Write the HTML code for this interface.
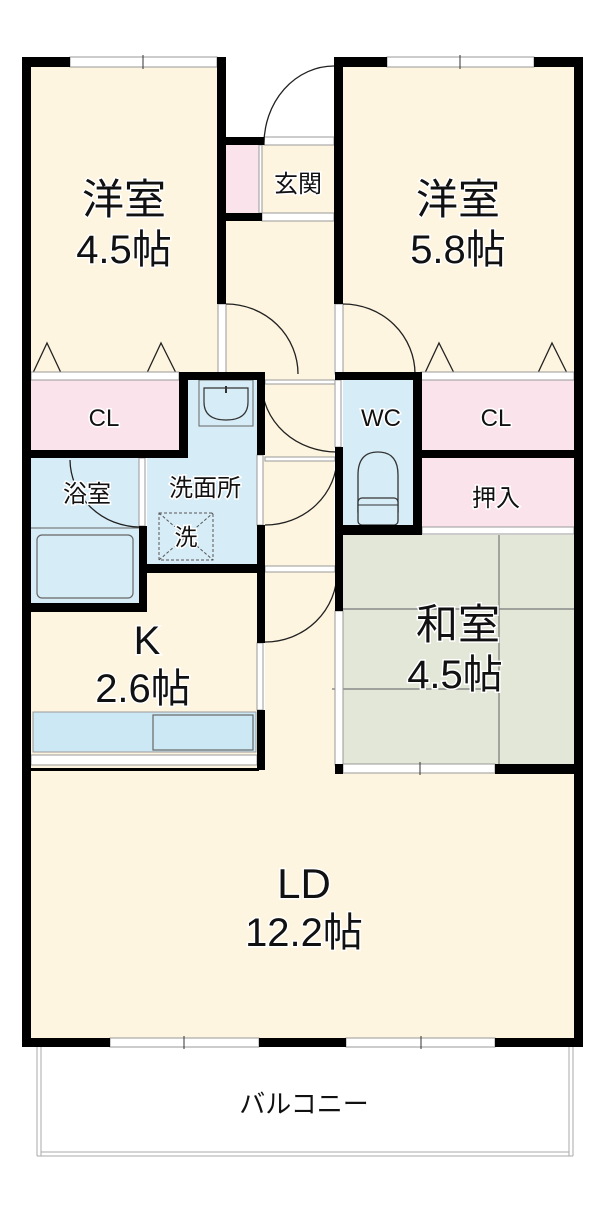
<!DOCTYPE html>
<html><head><meta charset="utf-8"><style>
html,body{margin:0;padding:0;background:#fff;}
svg{display:block}
text{font-family:"Liberation Sans","Noto Sans CJK JP",sans-serif;fill:#111;text-anchor:middle;stroke:#fff;stroke-width:3px;paint-order:stroke;}
</style></head><body>
<svg width="600" height="1216" viewBox="0 0 600 1216" xmlns="http://www.w3.org/2000/svg">
<rect width="600" height="1216" fill="#fff"/>
<g>
<rect x="31" y="66" width="187" height="310" fill="#fdf5e0"/>
<rect x="343" y="66" width="231" height="310" fill="#fdf5e0"/>
<rect x="226" y="145" width="108" height="430" fill="#fdf5e0"/>
<rect x="262" y="145" width="72" height="70" fill="#fdf5e0"/>
<rect x="226" y="145" width="34" height="70" fill="#fbe3ec"/>
<rect x="31" y="380" width="148" height="70" fill="#fbe3ec"/>
<rect x="421" y="380" width="153" height="70" fill="#fbe3ec"/>
<rect x="421" y="457" width="153" height="70" fill="#fbe3ec"/>
<rect x="31" y="457" width="110" height="148" fill="#d6ecf7"/>
<rect x="188" y="380" width="71" height="186" fill="#d6ecf7"/>
<rect x="147" y="455" width="112" height="111" fill="#d6ecf7"/>
<rect x="343" y="380" width="70" height="147" fill="#d6ecf7"/>
<rect x="31" y="610" width="228" height="158" fill="#fdf5e0"/>
<rect x="147" y="570" width="112" height="50" fill="#fdf5e0"/>
<rect x="265" y="560" width="75" height="215" fill="#fdf5e0"/>
<rect x="343" y="535" width="231" height="230" fill="#e2e7d8"/>
<rect x="31" y="770" width="543" height="270" fill="#fdf5e0"/>
</g>
<g stroke="#777" stroke-width="1.2" fill="none">
<line x1="499" y1="535" x2="499" y2="764"/>
<line x1="343" y1="609" x2="574" y2="609"/>
<line x1="332" y1="689" x2="499" y2="689"/>
</g>
<rect x="33" y="712" width="223" height="40" fill="#cde8f5" stroke="#999" stroke-width="1"/>
<rect x="153" y="715" width="100" height="35" fill="#cde8f5" stroke="#666" stroke-width="1.2"/>
<rect x="31" y="755" width="226" height="10" fill="#fff" stroke="#999" stroke-width="1"/>
<rect x="37" y="535" width="96" height="63" rx="5" fill="#d6ecf7" stroke="#666" stroke-width="1.2"/>
<line x1="31" y1="528" x2="139" y2="528" stroke="#666" stroke-width="1"/>
<rect x="199" y="380" width="54" height="46" fill="#d6ecf7" stroke="#666" stroke-width="1"/>
<path d="M204 388 H248 V402 Q248 420 226 420 Q204 420 204 402 Z" fill="#d6ecf7" stroke="#333" stroke-width="1.2"/>
<line x1="226" y1="386" x2="226" y2="393" stroke="#333" stroke-width="2"/>
<path d="M358 512 V475 Q358 452 378 452 Q398 452 398 475 V512 Z" fill="#d6ecf7" stroke="#333" stroke-width="1.3"/>
<rect x="358" y="498" width="40" height="27" rx="4" fill="#d6ecf7" stroke="#333" stroke-width="1.3"/>
<line x1="358" y1="505" x2="398" y2="505" stroke="#333" stroke-width="1"/>
<rect x="159" y="513" width="54" height="47" fill="none" stroke="#555" stroke-width="1" stroke-dasharray="3,2"/>
<line x1="159" y1="560" x2="213" y2="513" stroke="#555" stroke-width="1" stroke-dasharray="3,2"/>
<line x1="159" y1="513" x2="213" y2="560" stroke="#555" stroke-width="1" stroke-dasharray="3,2"/>
<g fill="none" stroke="#222" stroke-width="1.3">
<path d="M32 375 L47 343 L62 375"/><path d="M146 375 L161 343 L177 375"/>
<path d="M424 375 L439 343 L455 375"/><path d="M537 375 L552 343 L568 375"/>
</g>
<g fill="#fff" stroke="#999" stroke-width="1">
<rect x="70" y="57" width="147" height="10"/>
<rect x="387" y="57" width="147" height="10"/>
<rect x="264" y="137" width="70" height="8"/>
<rect x="262" y="213" width="72" height="8"/>
<rect x="259" y="145" width="3" height="68"/>
<rect x="31" y="372" width="148" height="8"/>
<rect x="421" y="372" width="153" height="8"/>
<rect x="218" y="304" width="8" height="70"/>
<rect x="335" y="304" width="8" height="70"/>
<rect x="265" y="380" width="70" height="4"/>
<rect x="335" y="380" width="6" height="67"/>
<rect x="257" y="455" width="6" height="70"/>
<rect x="265" y="457" width="70" height="4"/>
<rect x="139" y="458" width="6" height="68"/>
<rect x="265" y="566" width="70" height="6"/>
<rect x="257" y="643" width="6" height="67"/>
<rect x="335" y="611" width="8" height="154"/>
<rect x="422" y="527" width="152" height="7"/>
<rect x="343" y="764" width="152" height="9"/>
<rect x="110" y="1038" width="149" height="9"/>
<rect x="346" y="1038" width="149" height="9"/>
</g>
<g stroke="#333" stroke-width="1"><line x1="143" y1="55" x2="143" y2="69"/><line x1="460" y1="55" x2="460" y2="69"/><line x1="184" y1="1036" x2="184" y2="1049"/><line x1="421" y1="1036" x2="421" y2="1049"/><line x1="420" y1="762" x2="420" y2="775"/></g>
<g fill="none" stroke="#222" stroke-width="1.3">
<path d="M334 66 A70 78 0 0 0 264 145"/>
<path d="M226 304 A72 70 0 0 1 298 374"/>
<path d="M343 304 A72 70 0 0 1 415 374"/>
<path d="M262 384 A75 68 0 0 0 337 452"/>
<path d="M337 457 A72 68 0 0 1 265 525"/>
<path d="M337 572 A72 70 0 0 1 265 642"/>
<path d="M70 460 A70 68 0 0 0 139 527"/>
</g>
<g fill="#000">
<rect x="22" y="57" width="48" height="10"/>
<rect x="22" y="57" width="9" height="990"/>
<rect x="217" y="57" width="9" height="247"/>
<rect x="334" y="57" width="9" height="247"/>
<rect x="334" y="57" width="53" height="10"/>
<rect x="534" y="57" width="48" height="10"/>
<rect x="574" y="57" width="9" height="990"/>
<rect x="226" y="137" width="38" height="8"/>
<rect x="226" y="213" width="36" height="8"/>
<rect x="179" y="372" width="9" height="86"/>
<rect x="179" y="372" width="86" height="8"/>
<rect x="31" y="450" width="157" height="8"/>
<rect x="257" y="372" width="8" height="83"/>
<rect x="257" y="525" width="8" height="118"/>
<rect x="257" y="710" width="8" height="60"/>
<rect x="139" y="526" width="8" height="86"/>
<rect x="31" y="603" width="116" height="9"/>
<rect x="147" y="564" width="115" height="9"/>
<rect x="335" y="372" width="87" height="8"/>
<rect x="413" y="372" width="9" height="162"/>
<rect x="421" y="450" width="153" height="8"/>
<rect x="335" y="447" width="8" height="164"/>
<rect x="335" y="525" width="87" height="10"/>
<rect x="495" y="764" width="88" height="10"/>
<rect x="335" y="764" width="8" height="10"/>
<rect x="22" y="1038" width="88" height="9"/>
<rect x="259" y="1038" width="87" height="9"/>
<rect x="495" y="1038" width="88" height="9"/>
<rect x="31" y="768" width="228" height="3"/>
</g>
<g fill="none" stroke="#aaa" stroke-width="1">
<line x1="37" y1="1047" x2="37" y2="1156"/><line x1="41" y1="1047" x2="41" y2="1156"/>
<line x1="569" y1="1047" x2="569" y2="1156"/><line x1="573" y1="1047" x2="573" y2="1156"/>
<line x1="37" y1="1156" x2="573" y2="1156"/><line x1="41" y1="1152" x2="569" y2="1152"/>
</g>
<text x="124" y="214" font-size="42">洋室</text>
<text x="124" y="263" font-size="40">4.5帖</text>
<text x="458" y="214" font-size="42">洋室</text>
<text x="458" y="263" font-size="40">5.8帖</text>
<text x="298" y="192" font-size="24">玄関</text>
<text x="104" y="426" font-size="24">CL</text>
<text x="496" y="426" font-size="24">CL</text>
<text x="381" y="426" font-size="24">WC</text>
<text x="496" y="506" font-size="24">押入</text>
<text x="87" y="502" font-size="24">浴室</text>
<text x="205" y="496" font-size="24">洗面所</text>
<text x="186" y="545" font-size="23">洗</text>
<text x="147" y="654" font-size="40">K</text>
<text x="143" y="702" font-size="40">2.6帖</text>
<text x="458" y="639" font-size="42">和室</text>
<text x="455" y="688" font-size="40">4.5帖</text>
<text x="304" y="898" font-size="42">LD</text>
<text x="304" y="946" font-size="40">12.2帖</text>
<text x="304" y="1113" font-size="26">バルコニー</text>
</svg>
</body></html>
